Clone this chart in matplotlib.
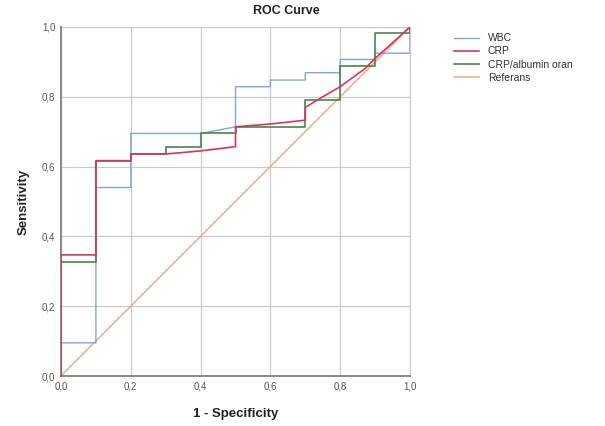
import matplotlib
matplotlib.use("Agg")
import matplotlib.pyplot as plt
from matplotlib.ticker import FuncFormatter

plt.rcParams['font.family'] = ['Liberation Sans', 'DejaVu Sans']

# WBC
wbc_x = [0.0, 0.0, 0.1, 0.1, 0.2, 0.2, 0.4, 0.5, 0.5, 0.6, 0.6, 0.7, 0.7, 0.8, 0.8, 0.9, 0.9, 1.0, 1.0]
wbc_y = [0.0, 0.095, 0.095, 0.54, 0.54, 0.695, 0.695, 0.714, 0.829, 0.829, 0.848, 0.848, 0.869, 0.869, 0.907, 0.907, 0.925, 0.925, 1.0]
# CRP
crp_x = [0.0, 0.0, 0.1, 0.1, 0.2, 0.2, 0.3, 0.4, 0.5, 0.5, 0.6, 0.7, 0.7, 0.75, 0.8, 0.87, 0.9, 1.0]
crp_y = [0.0, 0.347, 0.347, 0.617, 0.617, 0.636, 0.636, 0.645, 0.657, 0.714, 0.722, 0.733, 0.77, 0.8, 0.829, 0.88, 0.91, 1.0]
# CRP/albumin oran
alb_x = [0.0, 0.0, 0.1, 0.1, 0.2, 0.2, 0.3, 0.3, 0.4, 0.4, 0.5, 0.5, 0.7, 0.7, 0.8, 0.8, 0.9, 0.9, 1.0, 1.0]
alb_y = [0.0, 0.328, 0.328, 0.617, 0.617, 0.636, 0.636, 0.655, 0.655, 0.695, 0.695, 0.714, 0.714, 0.79, 0.79, 0.888, 0.888, 0.984, 0.984, 1.0]
# Referans
ref_x = [0.0, 1.0]
ref_y = [0.0, 1.0]

ticks = [0.0, 0.2, 0.4, 0.6, 0.8, 1.0]

fig = plt.figure(figsize=(6.05, 4.26), dpi=100)
ax = fig.add_axes([61/605, 50/426, 349/605, 349/426])

ax.plot(ref_x, ref_y, color="#f2a882", lw=1.1, label="Referans", zorder=2)
ax.plot(wbc_x, wbc_y, color="#7aa6dc", lw=1.0, label="WBC", zorder=3)
ax.plot(alb_x, alb_y, color="#3f8a45", lw=1.2, label="CRP/albumin oran", zorder=4)
ax.plot(crp_x, crp_y, color="#d8345f", lw=1.2, label="CRP", zorder=5)

ax.set_xlim(0, 1)
ax.set_ylim(0, 1)
ax.set_xticks(ticks)
ax.set_yticks(ticks)
fmt = FuncFormatter(lambda v, p: f"{v:.1f}".replace(".", ","))
ax.xaxis.set_major_formatter(fmt)
ax.yaxis.set_major_formatter(fmt)
ax.tick_params(length=0, labelsize=7, labelcolor="#555555", pad=4)
ax.grid(True, color="#cccccc", lw=0.9)
ax.set_axisbelow(True)
for s in ["top", "right"]:
    ax.spines[s].set_color("#cccccc")
    ax.spines[s].set_linewidth(0.9)
    ax.spines[s].set_zorder(1)
ax.spines["left"].set_color("#888888")
ax.spines["bottom"].set_color("#888888")
ax.spines["left"].set_linewidth(1.4)
ax.spines["bottom"].set_linewidth(1.4)

ax.set_xlabel("1 - Specificity", fontsize=9.5, fontweight="bold", color="#222222", labelpad=12)
ax.set_ylabel("Sensitivity", fontsize=9.5, fontweight="bold", color="#222222", labelpad=9)
fig.text(286/605, 1 - 11/426, "ROC Curve", ha="center", va="center", fontsize=9, fontweight="bold", color="#222222")

handles, labels = ax.get_legend_handles_labels()
order = [labels.index(n) for n in ["WBC", "CRP", "CRP/albumin oran", "Referans"]]
leg = fig.legend([handles[i] for i in order], [labels[i] for i in order],
                 loc="upper left", bbox_to_anchor=(445/605, 1 - 24/426),
                 frameon=False, fontsize=7.5, handlelength=2.4, labelspacing=0.3,
                 handletextpad=0.8)
for t in leg.get_texts():
    t.set_color("#333333")

fig.savefig("out.png", dpi=100, facecolor="white")
